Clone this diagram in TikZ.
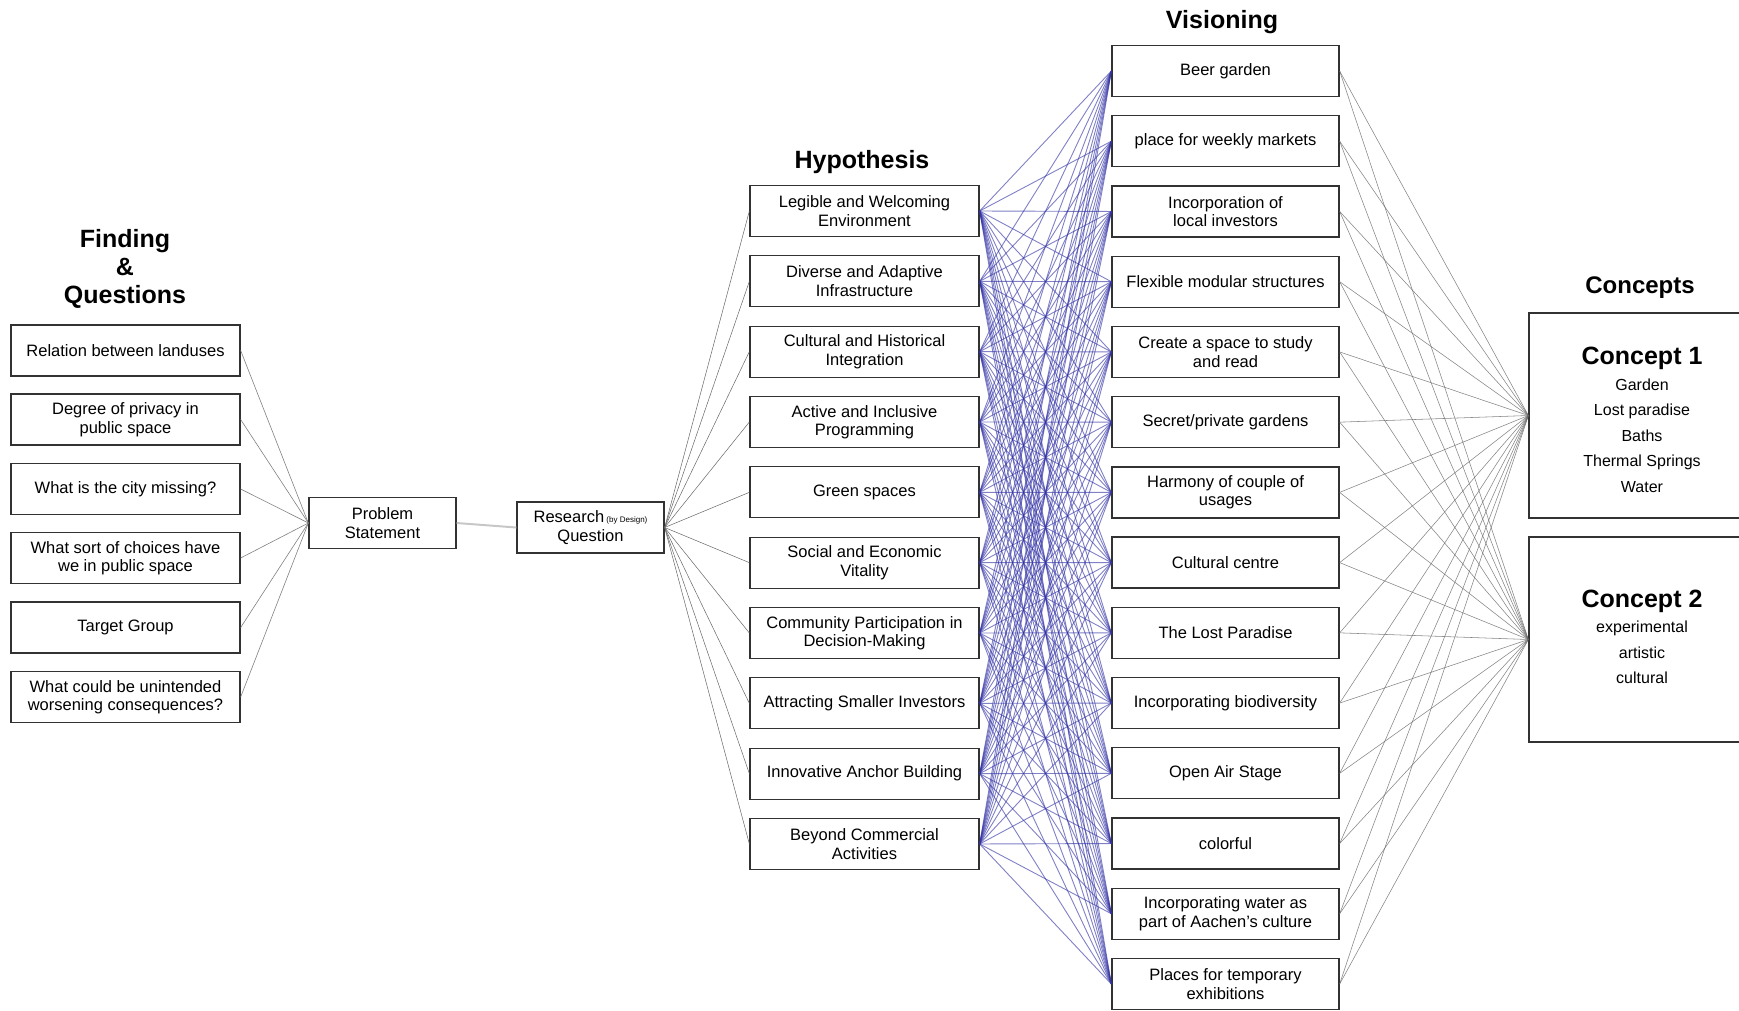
\documentclass[tikz,border=0pt]{standalone}
\usepackage{fontspec}
\setmainfont{Liberation Sans}
\definecolor{hvblue}{RGB}{50,50,165}
\definecolor{boxline}{RGB}{50,50,50}
\begin{document}
\begin{tikzpicture}[x=1pt,y=-1pt,
  box/.style={draw=boxline, line width=1.3pt, fill=white, minimum width=229pt, minimum height=51pt,
    align=center, inner sep=2pt, font=\fontsize{16.5}{18.5}\selectfont},
  smallbox/.style={box, minimum width=147pt},
  vbox/.style={box, minimum width=227pt},
  cbox/.style={draw=boxline, line width=1.3pt, minimum width=231pt, minimum height=205pt},
  title/.style={font=\fontsize{25}{28}\bfseries\selectfont, align=center},
  ctext/.style={align=center, font=\fontsize{16}{25.5}\selectfont},
  lq/.style={draw=black!50, line width=0.6pt},
  lps/.style={draw=black!22, line width=2pt},
  lrq/.style={draw=black!60, line width=0.5pt},
  lhv/.style={draw=hvblue, line width=0.9pt, opacity=0.62},
  lvc/.style={draw=black!60, line width=0.55pt, opacity=0.8}]
\useasboundingbox (0,0) rectangle (1739,1010);

% titles
\node[title] (tfq) at (125,269) {Finding\\\&\\Questions};
\node[title] (thy) at (862,162) {Hypothesis};
\node[title] (tvi) at (1222,22) {Visioning};
\node[title, font=\fontsize{24}{28}\bfseries\selectfont] (tco) at (1640,288) {Concepts};

% finding & questions
\node[box] (q1) at (125.5,350.5) {Relation between landuses};
\node[box] (q2) at (125.5,419.5) {Degree of privacy in\\public space};
\node[box] (q3) at (125.5,489) {What is the city missing?};
\node[box] (q4) at (125.5,558) {What sort of choices have\\we in public space};
\node[box] (q5) at (125.5,627.5) {Target Group};
\node[box] (q6) at (125.5,697) {What could be unintended\\worsening consequences?};

% problem statement & research question
\node[smallbox] (ps) at (382.5,523) {Problem\\Statement};
\node[smallbox] (rq) at (590.5,527.5) {Research{\fontsize{8}{9}\selectfont\ (by Design)}\\Question};

% hypothesis
\foreach \t [count=\i] in {
  {Legible and Welcoming\\Environment},
  {Diverse and Adaptive\\Infrastructure},
  {Cultural and Historical\\Integration},
  {Active and Inclusive\\Programming},
  {Green spaces},
  {Social and Economic\\Vitality},
  {Community Participation in\\Decision-Making},
  {Attracting Smaller Investors},
  {Innovative Anchor Building},
  {Beyond Commercial\\Activities}}
  \node[box] (h\i) at (864.5,{211+70.33*(\i-1)}) {\t};

% visioning
\foreach \t [count=\j] in {
  {Beer garden},
  {place for weekly markets},
  {Incorporation of\\local investors},
  {Flexible modular structures},
  {Create a space to study\\and read},
  {Secret/private gardens},
  {Harmony of couple of\\usages},
  {Cultural centre},
  {The Lost Paradise},
  {Incorporating biodiversity},
  {Open Air Stage},
  {colorful},
  {Incorporating water as\\part of Aachen's culture},
  {Places for temporary\\exhibitions}}
  \node[vbox] (v\j) at (1225.5,{71+70.23*(\j-1)}) {\t};

% concepts
\node[cbox] (c1) at (1644.5,415.5) {};
\node[cbox] (c2) at (1644.5,639.5) {};
\node[ctext, anchor=north] (c1t) at (1642,344) {{\fontsize{25}{28}\bfseries\selectfont Concept 1}\\Garden\\Lost paradise\\Baths\\Thermal Springs\\Water};
\node[ctext, anchor=north] (c2t) at (1642,586) {{\fontsize{25}{28}\bfseries\selectfont Concept 2}\\experimental\\artistic\\cultural};

% connectors
\foreach \i in {1,...,6} \draw[lq] (q\i.east) -- (ps.west);
\draw[lps] (ps.east) -- (rq.west);
\foreach \i in {1,...,10} \draw[lrq] (rq.east) -- (h\i.west);
\foreach \i in {1,...,10} \foreach \j in {1,...,14} \draw[lhv] (h\i.east) -- (v\j.west);
\foreach \j in {1,...,14} {
  \draw[lvc] (v\j.east) -- (c1.west);
  \draw[lvc] (v\j.east) -- (c2.west);
}
\end{tikzpicture}
\end{document}
